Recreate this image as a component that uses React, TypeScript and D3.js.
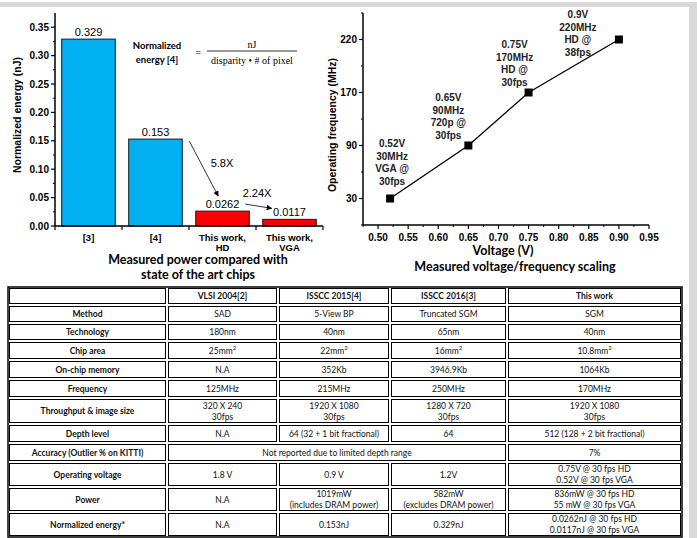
import React from "react";
import * as d3 from "d3";

// ---------- Data ----------
const barCategories = ["[3]", "[4]", "This work,\nHD", "This work,\nVGA"];
const barValues = [0.329, 0.153, 0.0262, 0.0117];
const barLabels = ["0.329", "0.153", "0.0262", "0.0117"];
const barColors = ["#00B0F0", "#00B0F0", "#FF0000", "#FF0000"];
const energyTicks = [0, 0.05, 0.1, 0.15, 0.2, 0.25, 0.3, 0.35];

const voltages = [0.52, 0.65, 0.75, 0.9];
const frequencies = [30, 90, 170, 220];
const pointNotes = [
  ["0.52V", "30MHz", "VGA @", "30fps"],
  ["0.65V", "90MHz", "720p @", "30fps"],
  ["0.75V", "170MHz", "HD @", "30fps"],
  ["0.9V", "220MHz", "HD @", "38fps"],
];
const voltageTicks = [0.5, 0.55, 0.6, 0.65, 0.7, 0.75, 0.8, 0.85, 0.9, 0.95];

const tableHeader = ["", "VLSI 2004[2]", "ISSCC 2015[4]", "ISSCC 2016[3]", "This work"];
const tableRows: string[][] = [
  ["Method", "SAD", "5-View BP", "Truncated SGM", "SGM"],
  ["Technology", "180nm", "40nm", "65nm", "40nm"],
  ["Chip area", "25mm^2", "22mm^2", "16mm^2", "10.8mm^2"],
  ["On-chip memory", "N.A", "352Kb", "3946.9Kb", "1064Kb"],
  ["Frequency", "125MHz", "215MHz", "250MHz", "170MHz"],
  ["Throughput & image size", "320 X 240\n30fps", "1920 X 1080\n30fps", "1280 X 720\n30fps", "1920 X 1080\n30fps"],
  ["Depth level", "N.A", "64 (32 + 1 bit fractional)", "64", "512 (128 + 2 bit fractional)"],
  ["Accuracy (Outlier % on KITTI)", "Not reported due to limited depth range", "", "", "7%"],
  ["Operating voltage", "1.8 V", "0.9 V", "1.2V", "0.75V @ 30 fps HD\n0.52V @ 30 fps VGA"],
  ["Power", "N.A", "1019mW\n(includes DRAM power)", "582mW\n(excludes DRAM power)", "836mW @ 30 fps HD\n55 mW @ 30 fps VGA"],
  ["Normalized energy*", "N.A", "0.153nJ", "0.329nJ", "0.0262nJ @ 30 fps HD\n0.0117nJ @ 30 fps VGA"],
];

// ---------- Layout ----------
const W = 697;
const H = 538;
const ARIAL = "'Liberation Sans', Arial, sans-serif";
const CAL = "Lato, 'Open Sans', sans-serif";
const SERIF = "'Liberation Serif', serif";

const noteOffsets = [
  [2, -55],
  [-20, -48],
  [-14, -48],
  [-41, -25],
];

const colEdges = [8, 167, 278, 390, 507, 682];
const rowHeights = [18, 18, 18, 19, 19, 19, 26, 19, 19, 25, 25, 25];
const tableTop = 287;

function SupText({ x, y, text, weight, size }: { x: number; y: number; text: string; weight: any; size: number }) {
  const parts = text.split("^");
  return (
    <text x={x} y={y} textAnchor="middle" dominantBaseline="central" fontFamily={CAL} fontSize={size} fontWeight={weight} fill="#111">
      {parts[0]}
      {parts.length > 1 && (
        <tspan dy={-4} fontSize={size * 0.7}>
          {parts[1]}
        </tspan>
      )}
    </text>
  );
}

export default function App() {
  // Bar chart scales
  const xB = d3.scaleBand<string>().domain(barCategories).range([55, 323]).paddingInner(0.2).paddingOuter(0.1);
  const yE = d3.scaleLinear().domain([0, 0.375]).range([226, 13]);
  const minorE = d3.range(0.025, 0.375, 0.05);
  const bandEdges = barCategories.map((c) => (xB(c) as number) - xB.step() * 0.1).concat([323]);

  // Line chart scales
  const xV = d3.scaleLinear().domain([0.475, 0.95]).range([363, 649]);
  const yF = d3.scalePoint<number>().domain(frequencies).range([225, 13]).padding(0.5);
  const step = yF.step();
  const minorF = d3.range(0, frequencies.length + 1).map((i) => 225 - i * step);
  const minorV = d3.range(0.475, 0.95, 0.05);
  const line = d3
    .line<number>()
    .x((_, i) => xV(voltages[i]))
    .y((_, i) => yF(frequencies[i]) as number);

  // Table geometry
  const allRows = [tableHeader, ...tableRows];
  const rowTops: number[] = [tableTop];
  rowHeights.forEach((h, i) => rowTops.push(rowTops[i] + h));

  const pHD = barValues[2];
  const p4 = barValues[1];
  const pVGA = barValues[3];

  return (
    <svg width={W} height={H} style={{ position: "absolute", left: 0, top: 0, background: "#fff" }}>
      <defs>
        <marker id="arr" viewBox="0 0 10 10" refX="9" refY="5" markerWidth="7" markerHeight="7" orient="auto">
          <path d="M0,0 L10,5 L0,10 z" fill="#000" />
        </marker>
      </defs>
      {/* gray frame */}
      <rect x={0} y={2} width={W} height={5} fill="#d9d9d9" />
      <rect x={689} y={2} width={8} height={H} fill="#d9d9d9" />

      {/* ---------- Bar chart ---------- */}
      <g>
        {barValues.map((v, i) => (
          <rect
            key={i}
            x={xB(barCategories[i])}
            y={yE(v)}
            width={xB.bandwidth()}
            height={yE(0) - yE(v)}
            fill={barColors[i]}
            stroke="#1a1a1a"
            strokeWidth={1}
          />
        ))}
        {barValues.map((v, i) => (
          <text
            key={i}
            x={(xB(barCategories[i]) as number) + xB.bandwidth() / 2}
            y={yE(v) - 7}
            textAnchor="middle"
            dominantBaseline="central"
            fontFamily={ARIAL}
            fontSize={11}
          >
            {barLabels[i]}
          </text>
        ))}
        {/* y axis */}
        <line x1={55} x2={55} y1={13} y2={226} stroke="#000" strokeWidth={1.5} />
        {energyTicks.map((t) => (
          <g key={t}>
            <line x1={51} x2={55} y1={yE(t)} y2={yE(t)} stroke="#000" strokeWidth={1.2} />
            <text x={49} y={yE(t)} textAnchor="end" dominantBaseline="central" fontFamily={ARIAL} fontSize={10} fontWeight="bold">
              {t.toFixed(2)}
            </text>
          </g>
        ))}
        {minorE.map((t) => (
          <line key={t} x1={53} x2={55} y1={yE(t)} y2={yE(t)} stroke="#000" strokeWidth={1} />
        ))}
        {/* x axis */}
        <line x1={55} x2={323} y1={226} y2={226} stroke="#000" strokeWidth={1.5} />
        {bandEdges.map((x, i) => (
          <line key={i} x1={x} x2={x} y1={226} y2={230} stroke="#000" strokeWidth={1.2} />
        ))}
        {barCategories.map((c) => (
          <text key={c} x={(xB(c) as number) + xB.bandwidth() / 2} y={237} textAnchor="middle" fontFamily={ARIAL} fontSize={9.5} fontWeight="bold" dominantBaseline="central">
            {c.split("\n").map((l, j) => (
              <tspan key={j} x={(xB(c) as number) + xB.bandwidth() / 2} dy={j === 0 ? 0 : 10}>
                {l}
              </tspan>
            ))}
          </text>
        ))}
        <text transform="translate(17,115) rotate(-90)" textAnchor="middle" dominantBaseline="central" fontFamily={ARIAL} fontSize={10.5} fontWeight="bold">
          Normalized energy (nJ)
        </text>
        <text x={198} y={259} textAnchor="middle" dominantBaseline="central" fontFamily={CAL} fontSize={12.5} fontWeight="bold">
          Measured power compared with
        </text>
        <text x={198} y={274} textAnchor="middle" dominantBaseline="central" fontFamily={CAL} fontSize={12.5} fontWeight="bold">
          state of the art chips
        </text>
        {/* formula */}
        <text x={157} y={45} textAnchor="middle" dominantBaseline="central" fontFamily={CAL} fontSize={9.5} fontWeight="bold">
          Normalized
        </text>
        <text x={157} y={59} textAnchor="middle" dominantBaseline="central" fontFamily={CAL} fontSize={9.5} fontWeight="bold">
          energy [4]
        </text>
        <text x={198} y={52} textAnchor="middle" dominantBaseline="central" fontFamily={SERIF} fontSize={10}>
          =
        </text>
        <text x={252} y={44} textAnchor="middle" dominantBaseline="central" fontFamily={SERIF} fontSize={10}>
          nJ
        </text>
        <line x1={207} x2={297} y1={51} y2={51} stroke="#000" strokeWidth={0.8} />
        <text x={252} y={60} textAnchor="middle" dominantBaseline="central" fontFamily={SERIF} fontSize={10}>
          disparity • # of pixel
        </text>
        {/* annotations */}
        <line
          x1={(xB(barCategories[1]) as number) + xB.bandwidth() + 7}
          y1={yE(p4) + 2}
          x2={(xB(barCategories[2]) as number) + xB.bandwidth() * 0.42}
          y2={yE(pHD) - 15}
          stroke="#000"
          strokeWidth={0.8}
          markerEnd="url(#arr)"
        />
        <text x={222} y={163} textAnchor="middle" dominantBaseline="central" fontFamily={ARIAL} fontSize={11}>
          5.8X
        </text>
        <line
          x1={(xB(barCategories[2]) as number) + xB.bandwidth() - 4}
          y1={yE(pHD) - 7}
          x2={(xB(barCategories[3]) as number) + 9}
          y2={yE(pVGA) - 11}
          stroke="#000"
          strokeWidth={0.8}
          markerEnd="url(#arr)"
        />
        <text x={257} y={193} textAnchor="middle" dominantBaseline="central" fontFamily={ARIAL} fontSize={11}>
          2.24X
        </text>
      </g>

      {/* ---------- Line chart ---------- */}
      <g>
        <line x1={363} x2={363} y1={13} y2={225} stroke="#000" strokeWidth={1.5} />
        <line x1={363} x2={649} y1={225} y2={225} stroke="#000" strokeWidth={1.5} />
        {frequencies.map((f) => (
          <g key={f}>
            <line x1={359} x2={363} y1={yF(f)} y2={yF(f)} stroke="#000" strokeWidth={1.2} />
            <text x={357} y={yF(f)} textAnchor="end" dominantBaseline="central" fontFamily={ARIAL} fontSize={10} fontWeight="bold">
              {f}
            </text>
          </g>
        ))}
        {minorF.map((y, i) => (
          <line key={i} x1={361} x2={363} y1={y} y2={y} stroke="#000" strokeWidth={1} />
        ))}
        {voltageTicks.map((v) => (
          <g key={v}>
            <line x1={xV(v)} x2={xV(v)} y1={225} y2={229} stroke="#000" strokeWidth={1.2} />
            <text x={xV(v)} y={237} textAnchor="middle" dominantBaseline="central" fontFamily={ARIAL} fontSize={10} fontWeight="bold">
              {v.toFixed(2)}
            </text>
          </g>
        ))}
        {minorV.map((v, i) => (
          <line key={i} x1={xV(v)} x2={xV(v)} y1={225} y2={227} stroke="#000" strokeWidth={1} />
        ))}
        <path d={line(frequencies) as string} fill="none" stroke="#000" strokeWidth={1.3} />
        {voltages.map((v, i) => (
          <rect key={i} x={xV(v) - 4} y={(yF(frequencies[i]) as number) - 4} width={8} height={8} fill="#000" />
        ))}
        {pointNotes.map((lines, i) => {
          const cx = xV(voltages[i]) + noteOffsets[i][0];
          const cy = (yF(frequencies[i]) as number) + noteOffsets[i][1];
          return (
            <g key={i}>
              {lines.map((l, j) => (
                <text key={j} x={cx} y={cy + j * 12.5} textAnchor="middle" dominantBaseline="central" fontFamily={ARIAL} fontSize={10} fontWeight="bold" fill="#222">
                  {l}
                </text>
              ))}
            </g>
          );
        })}
        <text transform="translate(332,125) rotate(-90)" textAnchor="middle" dominantBaseline="central" fontFamily={ARIAL} fontSize={10.5} fontWeight="bold">
          Operating frequency (MHz)
        </text>
        <text x={503} y={250} textAnchor="middle" dominantBaseline="central" fontFamily={CAL} fontSize={12.5} fontWeight="bold">
          Voltage (V)
        </text>
        <text x={515} y={266} textAnchor="middle" dominantBaseline="central" fontFamily={CAL} fontSize={12.5} fontWeight="bold">
          Measured voltage/frequency scaling
        </text>
      </g>

      {/* ---------- Table ---------- */}
      <g>
        <rect x={colEdges[0]} y={tableTop} width={colEdges[5] - colEdges[0]} height={rowTops[allRows.length] - tableTop} fill="#fff" stroke="#000" strokeWidth={1.5} />
        {allRows.map((row, r) => {
          const y0 = rowTops[r];
          const y1 = rowTops[r + 1];
          const merged = row[2] === "" && row[3] === "" && r > 0;
          const cells: { c0: number; c1: number; text: string; col: number }[] = [];
          if (merged) {
            cells.push({ c0: 0, c1: 1, text: row[0], col: 0 });
            cells.push({ c0: 1, c1: 4, text: row[1], col: 1 });
            cells.push({ c0: 4, c1: 5, text: row[4], col: 4 });
          } else {
            row.forEach((t, c) => cells.push({ c0: c, c1: c + 1, text: t, col: c }));
          }
          return (
            <g key={r}>
              {cells.map((cell, k) => {
                const x0 = colEdges[cell.c0];
                const x1 = colEdges[cell.c1];
                const bold = r === 0 || cell.col === 0;
                const lines = cell.text.split("\n");
                const cy = (y0 + y1) / 2;
                const lh = 11;
                return (
                  <g key={k}>
                    <rect x={x0 + 1.5} y={y0 + 1.5} width={x1 - x0 - 3} height={y1 - y0 - 3} fill="none" stroke="#000" strokeWidth={1} />
                    {lines.map((l, j) => (
                      <SupText
                        key={j}
                        x={(x0 + x1) / 2}
                        y={cy + (j - (lines.length - 1) / 2) * lh}
                        text={l}
                        weight={bold ? "bold" : "normal"}
                        size={8.5}
                      />
                    ))}
                  </g>
                );
              })}
            </g>
          );
        })}
      </g>
    </svg>
  );
}
